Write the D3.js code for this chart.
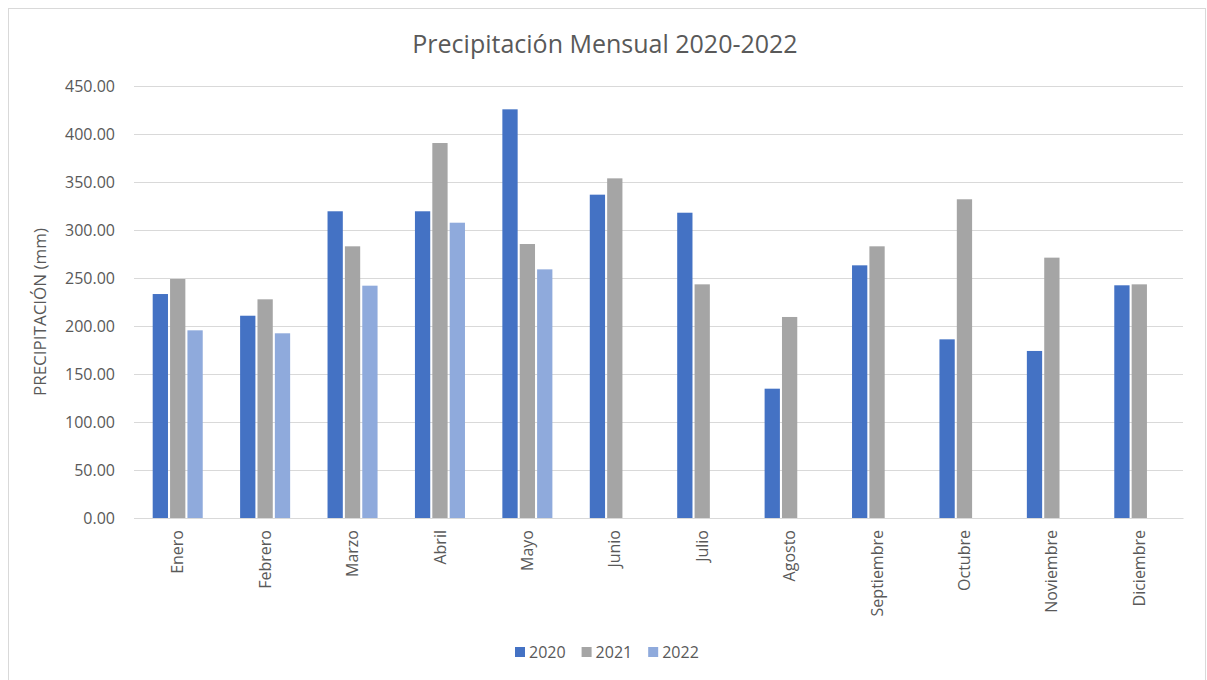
<!DOCTYPE html>
<html>
<head>
<meta charset="utf-8">
<script src="https://cdn.jsdelivr.net/npm/d3@7"></script>
<style>
body { margin: 0; background: #fff; }
text { font-family: "Open Sans", "Noto Sans", sans-serif; fill: #595959; }
</style>
</head>
<body>
<script>
var months = ["Enero","Febrero","Marzo","Abril","Mayo","Junio","Julio","Agosto","Septiembre","Octubre","Noviembre","Diciembre"];
var years = ["2020","2021","2022"];
var v2020 = [233.3, 210.7, 319.5, 319.5, 425.7, 336.8, 318.0, 134.7, 263.2, 186.1, 174.0, 242.4];
var v2021 = [249.0, 227.8, 283.0, 390.6, 285.4, 353.8, 243.4, 209.4, 283.0, 332.0, 271.2, 243.4];
var v2022 = [195.5, 192.4, 242.0, 307.6, 259.0, null, null, null, null, null, null, null];
var yTicks = [0, 50, 100, 150, 200, 250, 300, 350, 400, 450];
var colors = ["#4472c4", "#a5a5a5", "#8faadc"];

var series = [v2020, v2021, v2022];
var data = months.map(function(m, i) {
	return { month: m, vals: years.map(function(y, j) { return { year: y, value: series[j][i], c: colors[j] }; }) };
});

var margin = {top: 86, right: 24, bottom: 162, left: 134};
var W = 1207, H = 680;
var width = W - margin.left - margin.right;
var height = H - margin.top - margin.bottom;

var svg = d3.select("body").append("svg")
	.attr("width", W)
	.attr("height", H);

// chart border
svg.append("rect")
	.attr("x", 8.5).attr("y", 8.5)
	.attr("width", W - 10).attr("height", H)
	.attr("fill", "none").attr("stroke", "#d9d9d9");

var g = svg.append("g")
	.attr("transform", "translate(" + margin.left + "," + margin.top + ")");

var x0 = d3.scaleBand().domain(months).range([0, width]).paddingInner(0.38).paddingOuter(0.19);
var x1 = d3.scaleBand().domain(years).range([0, x0.bandwidth()]).padding(0.12);
var y = d3.scaleLinear().domain([0, 450]).range([height, 0]);

// gridlines
g.selectAll(".grid").data(yTicks).enter().append("line")
	.attr("x1", 0).attr("x2", width)
	.attr("y1", function(d){ return Math.round(y(d)) + 0.5; })
	.attr("y2", function(d){ return Math.round(y(d)) + 0.5; })
	.attr("stroke", "#d9d9d9").attr("stroke-width", 1);

var yAxis = d3.axisLeft(y).tickValues(yTicks).tickSize(0).tickPadding(19)
	.tickFormat(function(d){ return d.toFixed(2); });
var yg = g.append("g").call(yAxis);
yg.select(".domain").remove();
yg.selectAll("text").style("font-size", "16px").attr("fill", "#595959");

// bars
var groups = g.selectAll(".month").data(data).enter().append("g")
	.attr("transform", function(d){ return "translate(" + x0(d.month) + ",0)"; });
groups.selectAll("rect")
	.data(function(d){ return d.vals.filter(function(v){ return v.value != null; }); })
	.enter().append("rect")
	.attr("x", function(d){ return x1(d.year); })
	.attr("y", function(d){ return y(d.value); })
	.attr("width", x1.bandwidth())
	.attr("height", function(d){ return height - y(d.value); })
	.attr("fill", function(d){ return d.c; });

// x axis
var xAxis = d3.axisBottom(x0).tickSize(0).tickPadding(0);
var xg = g.append("g").attr("transform", "translate(0," + height + ")").call(xAxis);
xg.select(".domain").attr("stroke", "#d9d9d9");
xg.selectAll("text")
	.style("font-size", "16px")
	.attr("fill", "#595959")
	.attr("text-anchor", "end")
	.attr("dy", "0.35em")
	.attr("transform", "translate(0,12) rotate(-90)")
	.attr("y", 0).attr("x", 0);

// title
svg.append("text")
	.attr("x", 605).attr("y", 53)
	.attr("text-anchor", "middle")
	.style("font-size", "25px")
	.text("Precipitación Mensual 2020-2022");

// y axis title
svg.append("text")
	.attr("transform", "translate(46,312) rotate(-90)")
	.attr("text-anchor", "middle")
	.style("font-size", "17px")
	.text("PRECIPITACIÓN (mm)");

// legend
var legend = svg.append("g").attr("transform", "translate(515,652)");
var lx = 0;
years.forEach(function(yr, i) {
	var item = legend.append("g").attr("transform", "translate(" + lx + ",0)");
	item.append("rect").attr("x", 0).attr("y", -5).attr("width", 10).attr("height", 10)
		.attr("fill", colors[i]);
	var t = item.append("text").attr("x", 14).attr("dy", "0.35em").style("font-size", "16px").text(yr);
	lx += 14 + t.node().getComputedTextLength() + 16;
});
</script>
</body>
</html>
